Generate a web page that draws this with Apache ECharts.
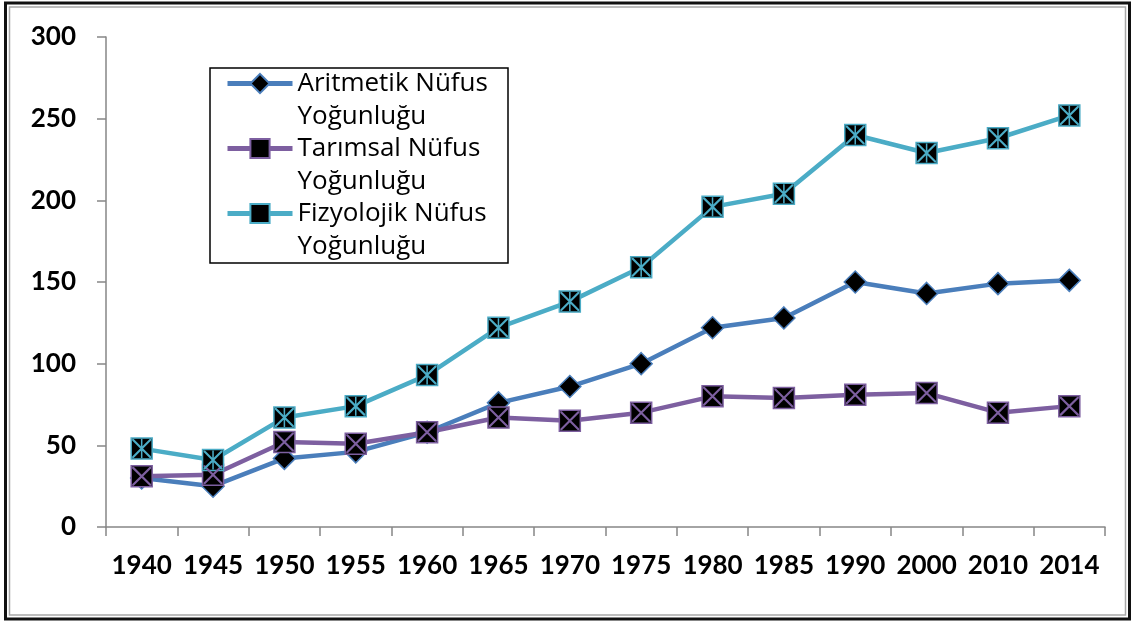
<!DOCTYPE html>
<html>
<head>
<meta charset="utf-8">
<script src="https://cdn.jsdelivr.net/npm/echarts@6/dist/echarts.min.js"></script>
<style>
  html, body { margin: 0; padding: 0; background: #fff; }
  #chart { width: 1134px; height: 626px; }
</style>
</head>
<body>
<div id="chart"></div>
<script>
const years = ['1940', '1945', '1950', '1955', '1960', '1965', '1970', '1975', '1980', '1985', '1990', '2000', '2010', '2014']
const aritmetik = [30, 25, 42, 46, 58, 76, 86, 100, 122, 128, 150, 143, 149, 151]
const tarimsal = [31, 32, 52, 51, 58, 67, 65, 70, 80, 79, 81, 82, 70, 74]
const fizyolojik = [48, 41, 67, 74, 93, 122, 138, 159, 196, 204, 240, 229, 238, 252]
const seriesNames = ['Aritmetik Nüfus\nYoğunluğu', 'Tarımsal Nüfus\nYoğunluğu', 'Fizyolojik Nüfus\nYoğunluğu']

const BLUE = '#4A7EBB'
const PURPLE = '#7D5FA0'
const CYAN = '#4BACC6'
const FONT = 'Lato'

// X inside the square markers, and X plus a vertical bar for the last series
const crossPath = 'path://M0,0 L1.6,0 L20,18.4 L20,20 L18.4,20 L0,1.6 Z M20,0 L20,1.6 L1.6,20 L0,20 L0,18.4 L18.4,0 Z'
const starPath = crossPath + ' M9.2,0 L10.8,0 L10.8,20 L9.2,20 Z'

const chart = echarts.init(document.getElementById('chart'))

function mainLine(name, data, color, symbol, size) {
  return {
    name: name,
    type: 'line',
    data: data,
    symbol: symbol,
    symbolSize: size,
    z: 2,
    lineStyle: { color: color, width: 4.5 },
    itemStyle: { color: '#000', borderColor: color, borderWidth: 1.5 }
  }
}

function overlay(name, data, color, path) {
  return {
    name: name,
    type: 'line',
    data: data,
    symbol: path,
    symbolSize: 19,
    silent: true,
    z: 3,
    lineStyle: { opacity: 0, width: 0 },
    itemStyle: { color: color }
  }
}

const option = {
  animation: false,
  backgroundColor: '#fff',
  grid: { left: 106, right: 29, top: 37, bottom: 99 },
  xAxis: {
    type: 'category',
    data: years,
    boundaryGap: true,
    axisLine: { lineStyle: { color: '#868686', width: 1.5 } },
    axisTick: { show: true, length: 9, lineStyle: { color: '#868686', width: 1.5 } },
    axisLabel: { color: '#000', fontFamily: FONT, fontWeight: 'bold', fontSize: 26, margin: 26, interval: 0 },
    splitLine: { show: false }
  },
  yAxis: {
    type: 'value',
    min: 0,
    max: 300,
    interval: 50,
    axisLine: { show: true, lineStyle: { color: '#868686', width: 1.5 } },
    axisTick: { show: true, length: 9, lineStyle: { color: '#868686', width: 1.5 } },
    axisLabel: { color: '#000', fontFamily: FONT, fontWeight: 'bold', fontSize: 26, margin: 30 },
    splitLine: { show: false }
  },
  legend: {
    data: seriesNames,
    orient: 'vertical',
    left: 225,
    top: 34,
    padding: 0,
    itemGap: -34,
    itemWidth: 65,
    itemHeight: 24,
    lineStyle: { width: 5 },
    // leading blank line keeps the first text line level with the icon
    formatter: function (name) { return '\n' + name },
    textStyle: { color: '#000', fontFamily: 'Open Sans', fontSize: 26, lineHeight: 33 }
  },
  graphic: [
    { type: 'rect', shape: { x: 210, y: 68, width: 298, height: 195 }, style: { fill: null, stroke: '#000', lineWidth: 1.5 }, silent: true },
    { type: 'rect', shape: { x: 5.5, y: 3, width: 1124, height: 616 }, style: { fill: null, stroke: '#111', lineWidth: 3 }, silent: true },
    { type: 'rect', shape: { x: 9.5, y: 7, width: 1116, height: 608 }, style: { fill: null, stroke: '#a8a8a8', lineWidth: 1.5 }, silent: true }
  ],
  series: [
    mainLine(seriesNames[0], aritmetik, BLUE, 'diamond', 22),
    mainLine(seriesNames[1], tarimsal, PURPLE, 'rect', 21),
    mainLine(seriesNames[2], fizyolojik, CYAN, 'rect', 21),
    overlay('tarimsal-x', tarimsal, PURPLE, crossPath),
    overlay('fizyolojik-x', fizyolojik, CYAN, starPath)
  ]
}

chart.setOption(option)
</script>
</body>
</html>
